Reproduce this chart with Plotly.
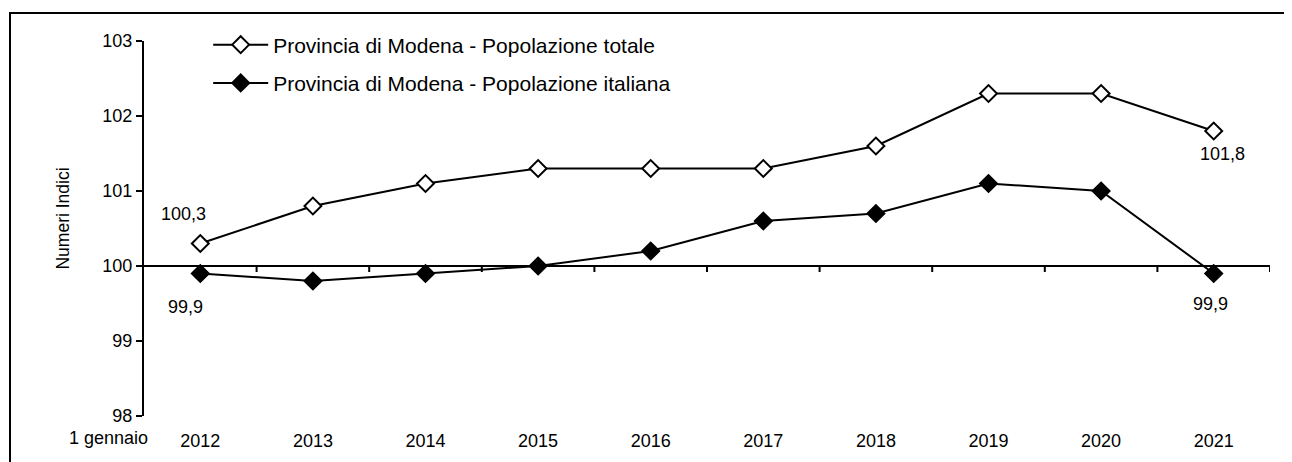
import plotly.graph_objects as go

years = ["2012", "2013", "2014", "2015", "2016", "2017", "2018", "2019", "2020", "2021"]
totale = [100.3, 100.8, 101.1, 101.3, 101.3, 101.3, 101.6, 102.3, 102.3, 101.8]
italiana = [99.9, 99.8, 99.9, 100.0, 100.2, 100.6, 100.7, 101.1, 101.0, 99.9]
name_tot = "Provincia di Modena - Popolazione totale"
name_ita = "Provincia di Modena - Popolazione italiana"
y_ticks = [98, 99, 100, 101, 102, 103]
y_title = "Numeri Indici"

FONT = "Liberation Sans, Arial, sans-serif"
xs = list(range(len(years)))

fig = go.Figure()
fig.add_trace(go.Scatter(
    x=xs, y=totale, name=name_tot, mode="lines+markers",
    line=dict(color="black", width=2),
    marker=dict(symbol="diamond", size=13, color="white", line=dict(color="black", width=2)),
    legendgroup="a",
))
fig.add_trace(go.Scatter(
    x=xs, y=italiana, name=name_ita, mode="lines+markers",
    line=dict(color="black", width=2),
    marker=dict(symbol="diamond", size=13, color="black", line=dict(color="black", width=2)),
    legendgroup="b",
))

shapes = []
# baseline at 100 across the plot
shapes.append(dict(type="line", xref="paper", yref="y", x0=0, x1=1, y0=100, y1=100,
                   line=dict(color="black", width=2)))
# category boundary ticks hanging below baseline
for k in range(1, len(years) + 1):
    shapes.append(dict(type="line", xref="x", yref="y", x0=k - 0.5, x1=k - 0.5,
                       y0=100, y1=100 - 6 / 75, line=dict(color="black", width=2)))
# outer frame (top and left visible)
shapes.append(dict(type="rect", xref="paper", yref="paper", x0=-0.119, x1=1.3, y0=-0.3, y1=1.0747,
                   line=dict(color="black", width=2), fillcolor="rgba(0,0,0,0)"))

annotations = [
    dict(x=xs[0], y=totale[0], text="100,3", showarrow=False, xshift=-17, yshift=30),
    dict(x=xs[0], y=italiana[0], text="99,9", showarrow=False, xshift=-15, yshift=-33),
    dict(x=xs[-1], y=totale[-1], text="101,8", showarrow=False, xshift=9, yshift=-23),
    dict(x=xs[-1], y=italiana[-1], text="99,9", showarrow=False, xshift=-3, yshift=-30),
    dict(x=0, y=0, xref="paper", yref="paper", text="1 gennaio", showarrow=False,
         xanchor="right", yanchor="top", xshift=6, yshift=-10),
    dict(x=-0.0728, y=0.5, xref="paper", yref="paper", text=y_title, showarrow=False,
         textangle=-90, xanchor="center", yanchor="middle", yshift=10,
         font=dict(size=17.5)),
]

fig.update_layout(
    width=1292, height=462,
    margin=dict(l=136, r=30, t=33, b=54),
    paper_bgcolor="white", plot_bgcolor="white",
    font=dict(family=FONT, size=18, color="black"),
    showlegend=True,
    legend=dict(x=0.057, y=1.044, xanchor="left", yanchor="top",
                font=dict(size=21), bgcolor="rgba(0,0,0,0)",
                itemwidth=55, tracegroupgap=8),
    shapes=shapes,
    annotations=annotations,
    xaxis=dict(range=[-0.5, len(years) - 0.5], tickvals=xs, ticktext=years,
               showline=False, showgrid=False, zeroline=False, ticks="",
               ticklabelstandoff=12, fixedrange=True),
    yaxis=dict(range=[98, 103], tickvals=y_ticks, showline=True, linecolor="black", linewidth=2,
               ticks="outside", ticklen=6, tickwidth=2, tickcolor="black",
               showgrid=False, zeroline=False),
)

fig.write_html("out.html")
